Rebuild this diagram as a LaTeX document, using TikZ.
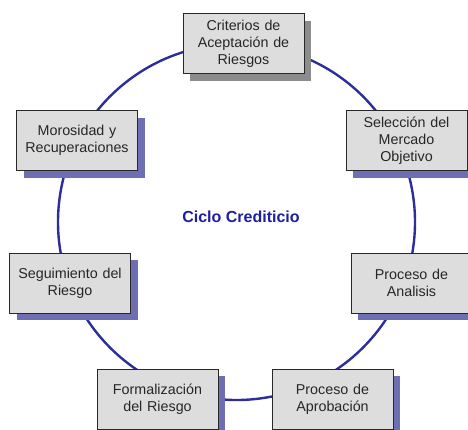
\documentclass[tikz,border=0pt]{standalone}
\usepackage{fontspec}
\setmainfont{Liberation Sans}
\usetikzlibrary{shadows}
\definecolor{ringblue}{RGB}{45,45,155}
\definecolor{titleblue}{RGB}{30,30,160}
\definecolor{boxfill}{RGB}{221,221,221}
\definecolor{boxline}{RGB}{40,40,40}
\definecolor{shblue}{RGB}{110,110,178}
\definecolor{shgray}{RGB}{140,140,140}
\begin{document}
\begin{tikzpicture}[x=1pt,y=-1pt,
  stage/.style={draw=boxline, line width=1pt, fill=boxfill,
    minimum width=121pt, minimum height=60pt, inner sep=0pt,
    text width=118pt, align=center, text=black!85,
    font=\fontsize{14.3}{16.8}\selectfont},
  blueshadow/.style={drop shadow={shadow xshift=7pt, shadow yshift=-7pt, fill=shblue, opacity=1}},
  grayshadow/.style={drop shadow={shadow xshift=7pt, shadow yshift=-7pt, fill=shgray, opacity=1}},
  ring/.style={draw=ringblue, line width=2.4pt},
  title/.style={font=\fontsize{16}{19}\selectfont\bfseries, text=titleblue}]
\useasboundingbox (0,0) rectangle (468,429);
\clip (0,0) rectangle (468,429);
\coordinate (c) at (236.5,222);
\draw[ring] (c) ellipse [x radius=178.5pt, y radius=178pt];
\node[title] (t) at (241,216.5) {Ciclo Crediticio};
\node[stage, grayshadow] (a) at (243.5,43.5) {Criterios de\\Aceptación de\\Riesgos};
\node[stage, blueshadow] (b) at (406.5,140.5) {Selección del\\Mercado\\Objetivo};
\node[stage, blueshadow] (cc) at (411.5,283) {Proceso de\\Analisis};
\node[stage, blueshadow] (d) at (332.5,399) {Proceso de\\Aprobación};
\node[stage, blueshadow] (e) at (157.5,399) {Formalización\\del Riesgo};
\node[stage, blueshadow] (f) at (70,283) {Seguimiento del\\Riesgo};
\node[stage, blueshadow] (g) at (77,140.5) {Morosidad y\\Recuperaciones};
\end{tikzpicture}
\end{document}
